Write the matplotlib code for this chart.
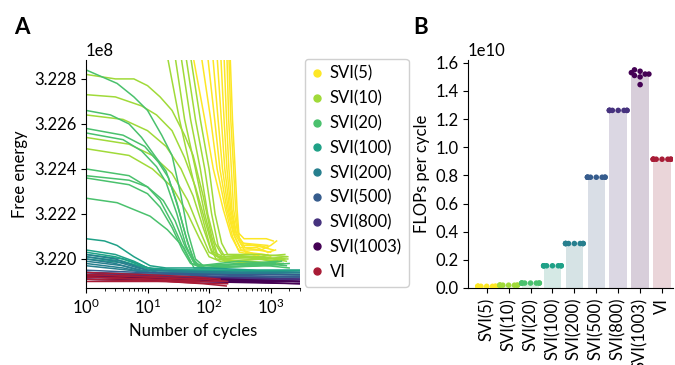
import numpy as np
import pandas as pd
import matplotlib
matplotlib.use('Agg')
import matplotlib.pyplot as plt
import seaborn as sns
from matplotlib.lines import Line2D
from matplotlib.ticker import MultipleLocator, ScalarFormatter

plt.rcParams['font.family'] = ['Lato', 'DejaVu Sans']
plt.rcParams['font.size'] = 12
plt.rcParams['mathtext.default'] = 'regular'

# methods, in legend / bar order
methods = ['SVI(5)', 'SVI(10)', 'SVI(20)', 'SVI(100)', 'SVI(200)',
           'SVI(500)', 'SVI(800)', 'SVI(1003)', 'VI']

# panel A: free energy curves (cycle, free energy / 1e8)
curves_svi5 = [
    [(1, 3.27), (55, 3.2290), (85, 3.2262), (117, 3.2240), (170, 3.2222), (230, 3.2210), (300, 3.2204), (450, 3.2203), (700, 3.2201), (900, 3.2202)],
    [(1, 3.27), (75, 3.2290), (105, 3.2263), (135, 3.2240), (185, 3.2222), (240, 3.2210), (310, 3.2203), (500, 3.2202), (750, 3.2200), (1000, 3.2201)],
    [(1, 3.27), (95, 3.2290), (122, 3.2263), (150, 3.2240), (195, 3.2222), (250, 3.2211), (320, 3.2205), (600, 3.2205), (900, 3.2203), (1200, 3.2204)],
    [(1, 3.27), (115, 3.2290), (140, 3.2262), (165, 3.2240), (205, 3.2222), (260, 3.2210), (330, 3.2204), (700, 3.2204), (1000, 3.2206), (1250, 3.2208)],
    [(1, 3.27), (135, 3.2290), (158, 3.2262), (180, 3.2240), (215, 3.2222), (265, 3.2211), (340, 3.2206), (650, 3.2206), (900, 3.2205)],
    [(1, 3.27), (155, 3.2290), (175, 3.2262), (195, 3.2240), (225, 3.2222), (270, 3.2212), (350, 3.2207), (800, 3.2205), (1100, 3.2204)],
    [(1, 3.27), (175, 3.2290), (192, 3.2262), (210, 3.2240), (235, 3.2222), (280, 3.2211), (360, 3.2207), (900, 3.2206)],
    [(1, 3.27), (195, 3.2290), (208, 3.2262), (230, 3.2240), (250, 3.2222), (290, 3.2212), (370, 3.2209), (850, 3.2209), (1100, 3.2208)],
    [(1, 3.27), (210, 3.2290), (225, 3.2262), (250, 3.2240), (270, 3.2222), (300, 3.2210), (380, 3.2205), (1000, 3.2203)],
    [(1, 3.27), (220, 3.2290), (240, 3.2262), (265, 3.2240), (285, 3.2222), (310, 3.2208), (390, 3.2203), (800, 3.2202)],
]
curves_svi10 = [
    [(1, 3.2282), (3, 3.2280), (6, 3.2280), (10, 3.2277), (16, 3.2272), (25, 3.2266), (40, 3.2255), (55, 3.2246), (80, 3.2228), (110, 3.2210), (140, 3.2201), (250, 3.2199), (600, 3.2200), (1200, 3.2199), (1700, 3.2200)],
    [(1, 3.2273), (3, 3.2272), (8, 3.2268), (14, 3.2264), (25, 3.2257), (40, 3.2245), (60, 3.2232), (90, 3.2215), (120, 3.2203), (200, 3.2200), (500, 3.2201), (1000, 3.2199), (1500, 3.2200)],
    [(1, 3.2264), (4, 3.2262), (10, 3.2257), (20, 3.2250), (35, 3.2240), (55, 3.2228), (80, 3.2214), (110, 3.2203), (180, 3.2199), (600, 3.2198), (1400, 3.2199)],
    [(1, 3.2254), (5, 3.2251), (12, 3.2246), (25, 3.2238), (45, 3.2226), (70, 3.2213), (100, 3.2203), (160, 3.2200), (700, 3.2201), (1800, 3.2199)],
    [(1, 3.2249), (5, 3.2246), (12, 3.2240), (25, 3.2232), (45, 3.2220), (70, 3.2209), (100, 3.2201), (150, 3.2199), (900, 3.2200), (1900, 3.2200)],
    [(1, 3.26), (21, 3.2290), (33, 3.2262), (50, 3.2240), (75, 3.2220), (105, 3.2205), (130, 3.2200), (400, 3.2199), (1500, 3.2198)],
    [(1, 3.26), (28, 3.2290), (40, 3.2262), (60, 3.2240), (85, 3.2220), (115, 3.2206), (140, 3.2201), (500, 3.2201), (1600, 3.2200)],
    [(1, 3.26), (35, 3.2290), (50, 3.2262), (72, 3.2240), (95, 3.2220), (125, 3.2207), (160, 3.2202), (600, 3.2201), (1700, 3.2202)],
    [(1, 3.26), (42, 3.2290), (60, 3.2262), (85, 3.2240), (110, 3.2220), (140, 3.2206), (180, 3.2201), (800, 3.2200), (1800, 3.2201)],
    [(1, 3.26), (50, 3.2290), (72, 3.2262), (100, 3.2240), (125, 3.2220), (160, 3.2207), (200, 3.2202), (700, 3.2202), (1900, 3.2201)],
]
curves_svi20 = [
    [(1, 3.2284), (3.2, 3.2278), (6, 3.2272), (10, 3.2266), (17, 3.2255), (25, 3.2246), (35, 3.2228), (45, 3.2212), (60, 3.2200), (80, 3.2197), (300, 3.2198), (900, 3.2197), (1600, 3.2198)],
    [(1, 3.2266), (2.5, 3.2264), (5, 3.2260), (8, 3.2254), (13, 3.2246), (20, 3.2239), (30, 3.2225), (42, 3.2210), (55, 3.2200), (75, 3.2196), (400, 3.2197), (1200, 3.2198)],
    [(1, 3.2258), (4, 3.2255), (9, 3.2250), (15, 3.2243), (22, 3.2236), (32, 3.2222), (45, 3.2207), (60, 3.2198), (90, 3.2196), (600, 3.2197), (2000, 3.2198)],
    [(1, 3.2256), (4, 3.2253), (8, 3.2248), (14, 3.2241), (20, 3.2234), (30, 3.2220), (42, 3.2206), (58, 3.2198), (85, 3.2197), (700, 3.2198), (1800, 3.2197)],
    [(1, 3.2240), (5, 3.2237), (10, 3.2232), (18, 3.2226), (28, 3.2217), (40, 3.2206), (55, 3.2199), (80, 3.2196), (500, 3.2197), (1500, 3.2199)],
    [(1, 3.2237), (5, 3.2235), (10, 3.2232), (16, 3.2226), (25, 3.2216), (38, 3.2205), (52, 3.2198), (75, 3.2196), (400, 3.2198), (1300, 3.2199)],
    [(1, 3.2236), (5, 3.2233), (10, 3.2229), (16, 3.2223), (25, 3.2214), (37, 3.2204), (50, 3.2198), (70, 3.2197), (300, 3.2199), (1100, 3.2198)],
    [(1, 3.2227), (3.2, 3.2225), (11, 3.2219), (21, 3.2213), (39, 3.2205), (57, 3.2196), (80, 3.2196), (900, 3.2197), (2000, 3.2196)],
]
curves_svi100 = [
    [(1, 3.2209), (2, 3.2208), (3.2, 3.2206), (6, 3.2201), (11, 3.2197), (20, 3.2196), (100, 3.2196), (600, 3.2195), (3000, 3.2195)],
    [(1, 3.2204), (3, 3.2202), (6, 3.2199), (10, 3.2196), (20, 3.2195), (300, 3.2195), (3000, 3.2194)],
    [(1, 3.2203), (3, 3.2201), (7, 3.2198), (12, 3.2195), (100, 3.2195), (3000, 3.2194)],
    [(1, 3.2202), (4, 3.2200), (8, 3.2197), (14, 3.2195), (500, 3.2194), (3000, 3.2194)],
    [(1, 3.2201), (4, 3.2199), (9, 3.2196), (15, 3.2195), (800, 3.2195), (3000, 3.2195)],
    [(1, 3.2200), (5, 3.2198), (10, 3.2196), (200, 3.2194), (3000, 3.2194)],
]
curves_svi200 = [
    [(1, 3.2202), (3, 3.2200), (6, 3.2197), (10, 3.2195), (100, 3.2194), (3000, 3.2193)],
    [(1, 3.2200), (3, 3.2198), (7, 3.2195), (12, 3.2194), (3000, 3.2193)],
    [(1, 3.2199), (4, 3.2197), (8, 3.2195), (400, 3.2194), (3000, 3.2194)],
    [(1, 3.2198), (4, 3.2196), (9, 3.2194), (3000, 3.2193)],
    [(1, 3.2197), (5, 3.2195), (10, 3.2194), (3000, 3.2194)],
    [(1, 3.2201), (3, 3.2199), (7, 3.2196), (15, 3.2194), (3000, 3.2193)],
]
curves_svi500 = [
    [(1, 3.2194), (10, 3.2193), (100, 3.2193), (3000, 3.2192)],
    [(1, 3.2195), (8, 3.2194), (200, 3.2193), (3000, 3.2193)],
    [(1, 3.2193), (20, 3.2192), (3000, 3.2192)],
    [(1, 3.2194), (30, 3.2193), (3000, 3.2191)],
    [(1, 3.2193), (50, 3.2192), (3000, 3.2192)],
]
curves_svi800 = [
    [(1, 3.2193), (10, 3.2192), (3000, 3.2191)],
    [(1, 3.2192), (40, 3.2191), (3000, 3.2191)],
    [(1, 3.2194), (20, 3.2192), (3000, 3.2190)],
    [(1, 3.2192), (100, 3.2191), (3000, 3.2190)],
    [(1, 3.2193), (60, 3.2192), (3000, 3.2191)],
]
curves_svi1003 = [
    [(1, 3.2192), (30, 3.2191), (3000, 3.2190)],
    [(1, 3.2191), (100, 3.2190), (3000, 3.2190)],
    [(1, 3.2193), (20, 3.2191), (3000, 3.2189)],
    [(1, 3.2191), (50, 3.2190), (3000, 3.2189)],
    [(1, 3.2192), (200, 3.2191), (3000, 3.2190)],
]
curves_vi = [
    [(1, 3.2194), (10, 3.2193), (60, 3.2192), (150, 3.2191)],
    [(1, 3.2193), (10, 3.2192), (80, 3.2191), (200, 3.2190)],
    [(1, 3.2192), (15, 3.2191), (100, 3.2190), (180, 3.2190)],
    [(1, 3.2191), (20, 3.2190), (120, 3.2189), (200, 3.2189)],
    [(1, 3.2190), (20, 3.2190), (80, 3.2189), (190, 3.2188)],
    [(1, 3.2193), (12, 3.2192), (50, 3.2191), (90, 3.2191)],
    [(1, 3.2192), (8, 3.2191), (40, 3.2190), (70, 3.2190)],
]
curves = [curves_svi5, curves_svi10, curves_svi20, curves_svi100, curves_svi200,
          curves_svi500, curves_svi800, curves_svi1003, curves_vi]

# panel B: FLOPs per cycle (x 1e10), one value per run
flops_svi5 = [0.012, 0.012, 0.012, 0.012, 0.012, 0.012, 0.012, 0.012]
flops_svi10 = [0.020, 0.020, 0.020, 0.020, 0.020, 0.020, 0.020, 0.020]
flops_svi20 = [0.035, 0.035, 0.035, 0.035, 0.035, 0.035, 0.035, 0.035]
flops_svi100 = [0.158, 0.158, 0.158, 0.158, 0.158, 0.158, 0.158, 0.158]
flops_svi200 = [0.316, 0.316, 0.316, 0.316, 0.316, 0.316, 0.316, 0.316]
flops_svi500 = [0.787, 0.787, 0.787, 0.787, 0.787, 0.787, 0.787, 0.787]
flops_svi800 = [1.262, 1.262, 1.262, 1.262, 1.262, 1.262, 1.262, 1.262]
flops_svi1003 = [1.55, 1.54, 1.53, 1.52, 1.52, 1.51, 1.50, 1.445]
flops_vi = [0.915, 0.915, 0.915, 0.915, 0.915, 0.915, 0.915, 0.915]
flops = [flops_svi5, flops_svi10, flops_svi20, flops_svi100, flops_svi200,
         flops_svi500, flops_svi800, flops_svi1003, flops_vi]

# colours: reversed viridis for SVI, crimson for VI
colors = [matplotlib.colormaps['viridis'](v) for v in np.linspace(1, 0, 8)] + ['#a81c36']

fig = plt.figure(figsize=(6.75, 3.65), dpi=100)

# ---- panel A
axA = fig.add_axes([86/675, 77/365, 214/675, 228/365])
for grp, c in zip(curves, colors):
    for cv in grp:
        arr = np.array(cv, dtype=float)
        axA.plot(arr[:, 0], arr[:, 1]*1e8, color=c, lw=1.1)
axA.set_xscale('log')
axA.set_xlim(1, 3000)
axA.set_ylim(3.21871e8, 3.22884e8)
axA.yaxis.set_major_locator(MultipleLocator(0.002e8))
fmt = ScalarFormatter(useOffset=False)
fmt.set_scientific(True)
axA.yaxis.set_major_formatter(fmt)
axA.set_xlabel('Number of cycles')
axA.set_ylabel('Free energy')
for s in ['top', 'right']:
    axA.spines[s].set_visible(False)

handles = [Line2D([], [], marker='o', ls='', color=c, markersize=5) for c in colors]
fig.legend(handles, methods, loc='upper left', bbox_to_anchor=(305/675, 1-59/365),
           bbox_transform=fig.transFigure, borderaxespad=0, handlelength=0.6,
           handletextpad=0.5, labelspacing=0.52, borderpad=0.4, framealpha=1,
           edgecolor='#d0d0d0')

# ---- panel B
df = pd.DataFrame({'method': [m for m, f in zip(methods, flops) for _ in f],
                   'flops': [v*1e10 for f in flops for v in f]})
pal = dict(zip(methods, colors))
axB = fig.add_axes([468/675, 77/365, 205/675, 228/365])
sns.barplot(data=df, x='method', y='flops', hue='method', order=methods, palette=pal,
            alpha=0.2, errorbar=None, linewidth=0, legend=False, ax=axB)
sns.swarmplot(data=df, x='method', y='flops', hue='method', order=methods, palette=pal,
              size=4, legend=False, ax=axB)
axB.set_xlim(-0.853, 8.5)
axB.set_ylim(0, 1.62e10)
axB.yaxis.set_major_locator(MultipleLocator(0.2e10))
axB.set_xlabel('')
axB.set_ylabel('FLOPs per cycle')
axB.tick_params(axis='x', rotation=90)
for s in ['top', 'right']:
    axB.spines[s].set_visible(False)

fig.text(14/675, 1-34/365, 'A', fontsize=16, fontweight='bold', va='baseline')
fig.text(413/675, 1-34/365, 'B', fontsize=16, fontweight='bold', va='baseline')

fig.savefig('out.png', dpi=100)
